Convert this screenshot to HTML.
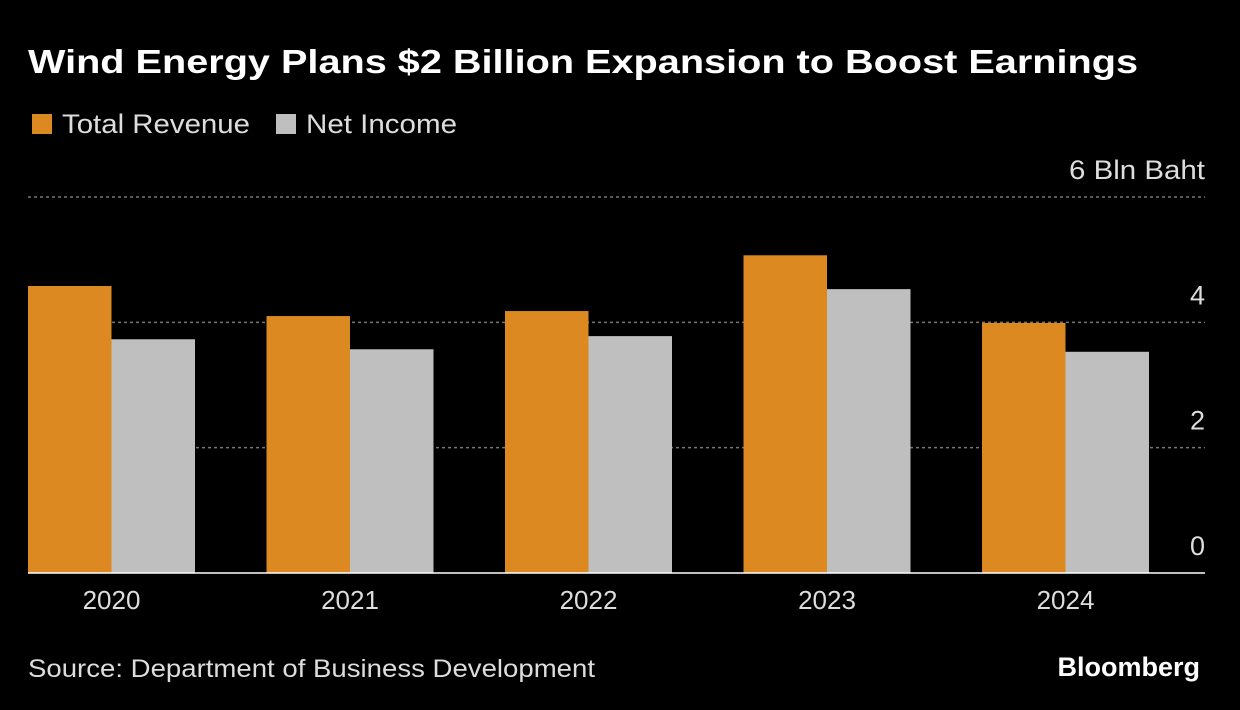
<!DOCTYPE html>
<html><head><meta charset="utf-8"><style>
body{margin:0;background:#000;width:1240px;height:710px;overflow:hidden;font-family:"Liberation Sans",sans-serif;color:#ddd}
</style></head><body>
<svg id="c" width="1240" height="710" style="position:absolute;left:0;top:0">
<text x="28" y="73" fill="#fff" font-size="33" font-weight="bold" textLength="1110" lengthAdjust="spacingAndGlyphs">Wind Energy Plans $2 Billion Expansion to Boost Earnings</text>
<g>
<rect x="32" y="114" width="20" height="20" fill="#dc8922"/>
<text x="62" y="133" fill="#ddd" font-size="27" textLength="188" lengthAdjust="spacingAndGlyphs">Total Revenue</text>
<rect x="276" y="114" width="20" height="20" fill="#bfbfbf"/>
<text x="306" y="133" fill="#ddd" font-size="27" textLength="151" lengthAdjust="spacingAndGlyphs">Net Income</text>
</g>
<g id="plot"></g>
<text x="28" y="677" fill="#ddd" font-size="25" textLength="567" lengthAdjust="spacingAndGlyphs">Source: Department of Business Development</text>
<text x="1200" y="676" fill="#fff" font-size="27" font-weight="bold" text-anchor="end">Bloomberg</text>
</svg>
<script>
const categories=["2020","2021","2022","2023","2024"];
const revenue=[4.58,4.10,4.18,5.07,3.99];
const netIncome=[3.73,3.57,3.78,4.53,3.53];
const ticks=[0,2,4,6];
const tickLabels=["0","2","4","6 Bln Baht"];
const NS="http://www.w3.org/2000/svg";
const g=document.getElementById('plot');
const y0=573,yTop=197,yMax=6;
function y(v){return y0-(v/yMax)*(y0-yTop);}
function x(i){return 28+i*238.5;}
const bw=83.5;
function mk(t,a){const e=document.createElementNS(NS,t);for(const k in a)e.setAttribute(k,a[k]);g.appendChild(e);return e;}
ticks.forEach((t,i)=>{
 if(t>0){const l=mk('line',{x1:28,x2:1205,y1:y(t),y2:y(t),stroke:'#777','stroke-width':1.5,'stroke-dasharray':'3,3'});
 
 }
 const a={x:1205,y:y(t)-18,fill:'#ddd','font-size':27,'text-anchor':'end'};
 if(t===6){a.textLength=136;a.lengthAdjust='spacingAndGlyphs';}
 const tx=mk('text',a);
 tx.textContent=tickLabels[i];
 
 
});
categories.forEach((c,i)=>{
 const r=mk('rect',{x:x(i),y:y(revenue[i]),width:bw,height:y0-y(revenue[i]),fill:'#dc8922'});
 
 
 const n=mk('rect',{x:x(i)+bw,y:y(netIncome[i]),width:bw,height:y0-y(netIncome[i]),fill:'#bfbfbf'});
 
 
 const t=mk('text',{x:x(i)+bw,y:609,fill:'#ddd','font-size':26,'text-anchor':'middle'});
 t.textContent=c;
 
 
});
const b=mk('line',{x1:28,x2:1205,y1:y0,y2:y0,stroke:'#fff','stroke-width':1.5});


</script>
</body></html>
